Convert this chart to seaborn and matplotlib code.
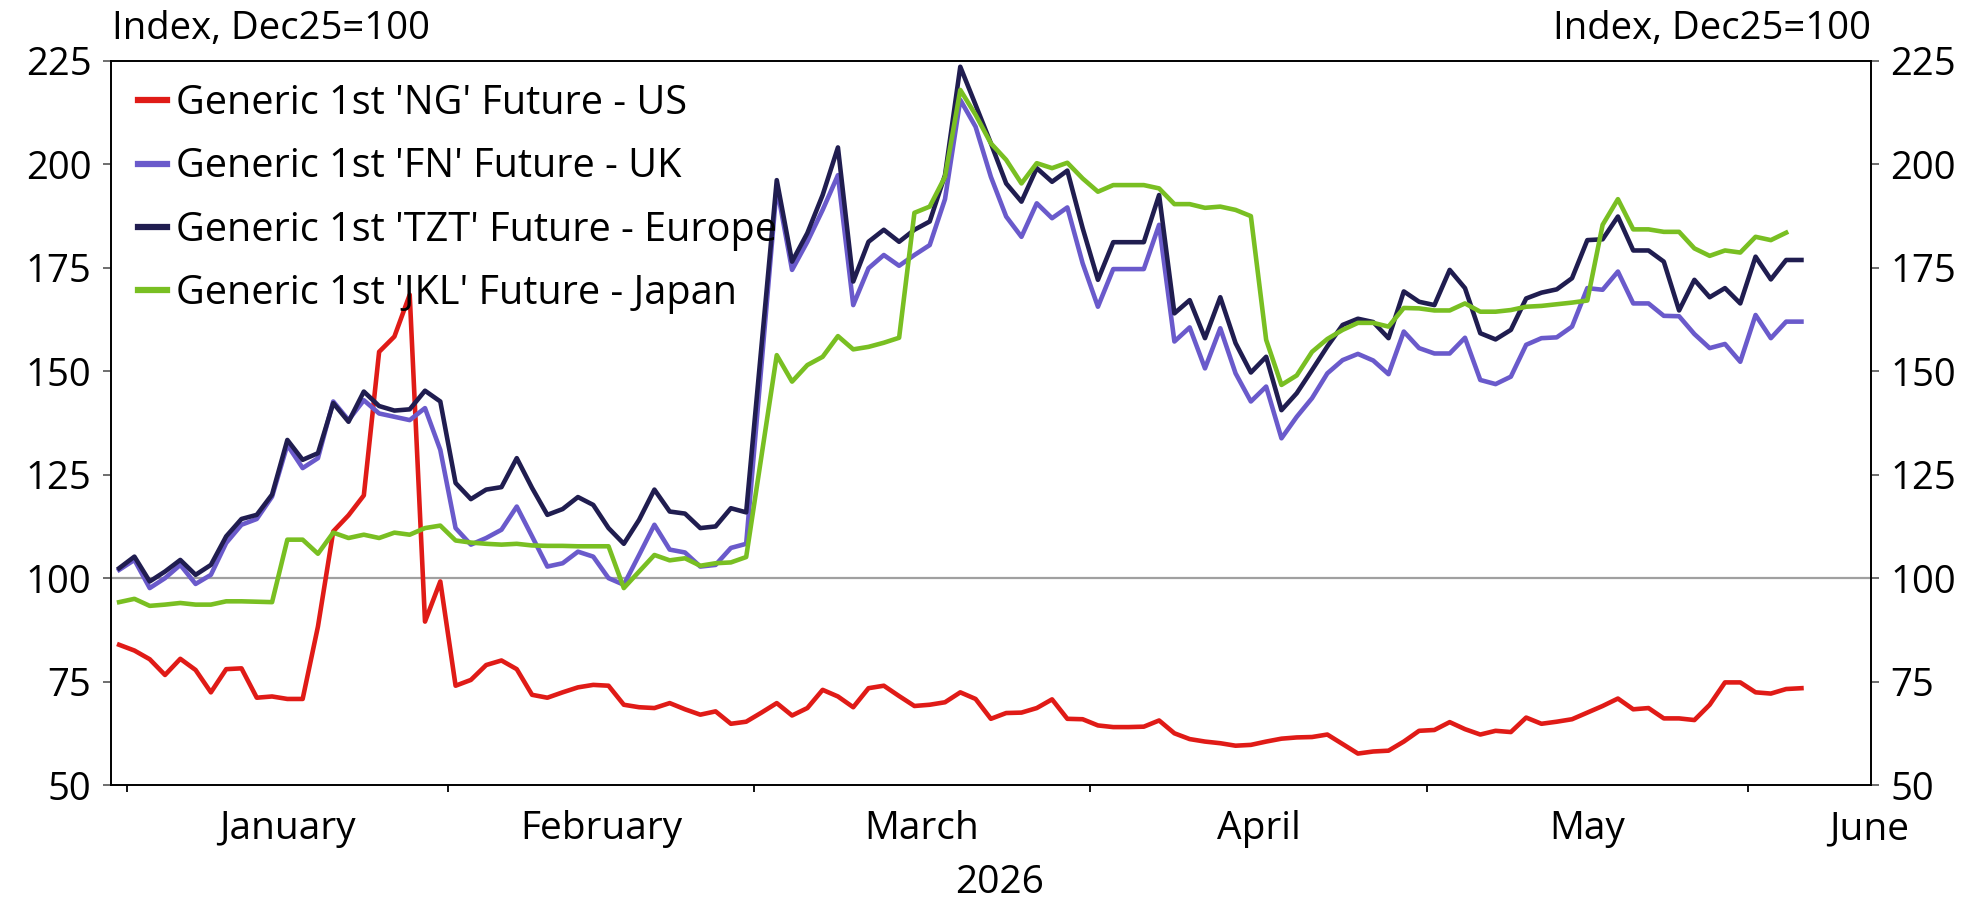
# Generic 1st futures, index Dec25=100, daily (business days)
import pandas as pd
import seaborn as sns
import matplotlib.pyplot as plt

# series values, one per business day from 31 Dec 2025 to 4 Jun 2026
us_ng = [83.9, 82.5, 80.4, 76.6, 80.5, 77.8, 72.4, 78.0, 78.2, 71.1, 71.4, 70.8, 70.8, 88.3, 111.3, 115.2,
         120.0, 154.7, 158.4, 168.5, 89.5, 99.2, 74.0, 75.4, 79.0, 80.1, 78.0, 71.8, 71.1, 72.4, 73.6, 74.2,
         74.0, 69.4, 68.8, 68.6, 69.8, 68.3, 67.0, 67.8, 64.8, 65.3, 67.5, 69.8, 66.8, 68.6, 73.0, 71.4,
         68.8, 73.4, 74.0, 71.5, 69.1, 69.4, 70.0, 72.4, 70.8, 66.0, 67.4, 67.5, 68.6, 70.7, 66.0, 65.9,
         64.4, 64.0, 64.0, 64.1, 65.6, 62.5, 61.1, 60.5, 60.1, 59.5, 59.7, 60.5, 61.2, 61.5, 61.6, 62.2,
         59.9, 57.6, 58.1, 58.3, 60.5, 63.1, 63.3, 65.2, 63.5, 62.2, 63.1, 62.8, 66.3, 64.8, 65.3, 65.9,
         67.5, 69.1, 70.9, 68.3, 68.6, 66.1, 66.1, 65.7, 69.4, 74.8, 74.8, 72.4, 72.1, 73.2, 73.4]
uk_fn = [102.0, 104.4, 97.6, 100.0, 103.2, 98.6, 100.8, 108.5, 112.9, 114.3, 119.7, 132.2, 126.6, 129.0,
         142.7, 138.2, 143.0, 139.8, 139.0, 138.2, 141.1, 131.0, 112.1, 108.1, 109.7, 111.7, 117.3, 110.1,
         102.8, 103.6, 106.4, 105.2, 100.0, 98.4, 105.6, 112.9, 106.9, 106.2, 102.8, 103.2, 107.3, 108.3,
         151.5, 194.6, 174.5, 181.3, 189.0, 197.4, 166.0, 174.9, 178.1, 175.5, 178.1, 180.5, 191.6, 215.6,
         209.1, 197.0, 187.4, 182.5, 190.6, 187.0, 189.6, 176.1, 165.6, 174.7, 174.7, 174.7, 185.4, 157.2,
         160.6, 150.7, 160.4, 149.5, 142.7, 146.3, 133.8, 139.0, 143.5, 149.5, 152.7, 154.2, 152.6, 149.3,
         159.6, 155.6, 154.3, 154.3, 158.1, 147.9, 146.9, 148.7, 156.4, 158.0, 158.2, 160.8, 170.1, 169.7,
         174.1, 166.4, 166.4, 163.4, 163.3, 159.0, 155.6, 156.6, 152.3, 163.6, 158.0, 162.0, 162.0]
eu_tzt = [102.4, 105.2, 99.2, 101.6, 104.4, 100.8, 103.2, 110.1, 114.3, 115.3, 120.2, 133.4, 128.6, 130.2,
          142.3, 137.8, 145.1, 141.6, 140.5, 140.8, 145.3, 142.7, 123.0, 119.1, 121.4, 122.0, 129.0, 121.8,
          115.3, 116.7, 119.6, 117.7, 112.1, 108.3, 114.1, 121.4, 116.1, 115.6, 112.1, 112.5, 116.9, 115.9,
          156.0, 196.2, 176.5, 183.4, 192.6, 204.1, 171.7, 181.3, 184.2, 181.3, 184.2, 186.2, 197.4, 223.6,
          214.4, 205.1, 195.4, 191.0, 199.1, 195.8, 198.5, 184.6, 172.1, 181.2, 181.2, 181.2, 192.6, 164.0,
          167.2, 158.0, 167.9, 156.8, 149.7, 153.5, 140.6, 144.7, 150.3, 156.0, 161.2, 162.7, 161.9, 158.0,
          169.3, 166.8, 166.0, 174.5, 170.1, 159.2, 157.7, 160.0, 167.6, 169.0, 169.8, 172.5, 181.7, 181.9,
          187.4, 179.2, 179.2, 176.5, 164.7, 172.1, 167.9, 170.1, 166.4, 177.7, 172.2, 176.9, 176.9]
jp_jkl = [94.2, 95.0, 93.3, 93.6, 94.0, 93.6, 93.6, 94.4, 94.4, 94.3, 94.2, 109.3, 109.3, 105.9, 111.0,
          109.7, 110.5, 109.7, 111.0, 110.5, 112.1, 112.7, 109.1, 108.6, 108.3, 108.1, 108.3, 107.9, 107.8,
          107.8, 107.7, 107.7, 107.7, 97.6, 101.6, 105.6, 104.3, 104.8, 103.0, 103.6, 103.8, 105.1, 129.5,
          153.9, 147.5, 151.5, 153.5, 158.5, 155.3, 155.9, 156.9, 158.1, 188.3, 189.8, 197.0, 218.0, 212.0,
          205.1, 201.1, 195.4, 200.3, 199.1, 200.4, 196.6, 193.4, 195.0, 195.0, 195.0, 194.2, 190.4, 190.4,
          189.5, 189.8, 189.0, 187.5, 157.6, 146.7, 149.0, 154.7, 157.8, 160.0, 161.7, 161.7, 160.8, 165.3,
          165.2, 164.7, 164.7, 166.4, 164.4, 164.4, 164.8, 165.6, 165.8, 166.2, 166.6, 167.1, 185.4, 191.6,
          184.3, 184.3, 183.7, 183.7, 179.7, 177.9, 179.2, 178.7, 182.5, 181.7, 183.5]

series_names = ["Generic 1st 'NG' Future - US", "Generic 1st 'FN' Future - UK",
                "Generic 1st 'TZT' Future - Europe", "Generic 1st 'JKL' Future - Japan"]
series_values = [us_ng, uk_fn, eu_tzt, jp_jkl]
colors = ['#e01b17', '#6a5acb', '#201d50', '#79bf22']
month_names = ['January', 'February', 'March', 'April', 'May', 'June']
y_ticks = [50, 75, 100, 125, 150, 175, 200, 225]

# business days (1 Jan is a holiday), plotted as a category axis
dates = pd.bdate_range('2025-12-31', '2026-06-04')
dates = dates[dates != pd.Timestamp('2026-01-01')]

frames = []
for name, vals in zip(series_names, series_values):
    frames.append(pd.DataFrame({'pos': range(len(vals)), 'value': vals, 'series': name}))
df = pd.concat(frames, ignore_index=True)

# month boundaries sit between the last and first business day of each month
pos = pd.Series(range(len(dates)), index=dates)
first_of_month = pos[dates.year == 2026].groupby(dates[dates.year == 2026].month).min()
bounds = [i - 0.5 for i in first_of_month.values]
xmin, xmax = -0.55, 114.55
label_pos = [(a + b) / 2 for a, b in zip(bounds[:-1], bounds[1:])] + [xmax - 0.1]

plt.rcParams['font.family'] = ['Open Sans', 'DejaVu Sans']
fig = plt.figure(figsize=(19.77, 9.02), dpi=100)
ax = fig.add_axes([0.056, 0.1297, 0.8904, 0.8027])

ax.axhline(100, color='#a0a0a0', lw=1.6, zorder=1)
sns.lineplot(data=df, x='pos', y='value', hue='series', hue_order=series_names,
             palette=colors, linewidth=3.3, estimator=None, sort=False, ax=ax, zorder=3)

ax.set_xlim(xmin, xmax)
ax.set_ylim(50, 225)
ax.set_yticks(y_ticks)
ax.set_xticks(bounds)
ax.set_xticklabels([])
ax.set_xticks(label_pos, minor=True)
ax.set_xticklabels(month_names, minor=True)
ax.set_xlabel('')
ax.set_ylabel('')

ax.tick_params(axis='y', which='major', direction='out', length=6, width=1.2, color='#555555',
               labelsize=27.5, pad=8, left=True, right=True, labelleft=True, labelright=True)
ax.tick_params(axis='x', which='major', direction='out', length=5, width=1.3, color='black')
ax.tick_params(axis='x', which='minor', length=0, labelsize=28, pad=18)
for s in ax.spines.values():
    s.set_color('black')
    s.set_linewidth(1.4)

handles, labels = ax.get_legend_handles_labels()
leg = ax.legend(handles, labels, loc='upper left', bbox_to_anchor=(0.0155, 0.969), frameon=False,
                fontsize=28.5, handlelength=0.73, handletextpad=0.22, labelspacing=0.58,
                borderaxespad=0, borderpad=0)
for h in leg.get_lines():
    h.set_linewidth(4.5)

fig.text(0.0565, 0.968, 'Index, Dec25=100', fontsize=27.5, ha='left', va='center')
fig.text(0.9464, 0.968, 'Index, Dec25=100', fontsize=27.5, ha='right', va='center')
fig.text(0.5058, 0.0105, '2026', fontsize=28, ha='center', va='baseline')

fig.savefig('out.png', dpi=100)
